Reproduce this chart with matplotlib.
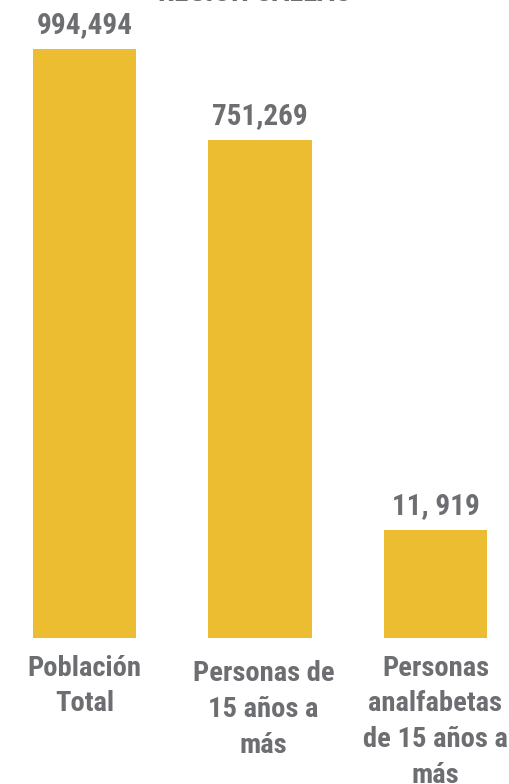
import matplotlib.pyplot as plt
from matplotlib import font_manager

categories = ["Población\nTotal", "Personas de\n15 años a\nmás", "Personas\nanalfabetas\nde 15 años a\nmás"]
value_labels = ["994,494", "751,269", "11, 919"]
# bar heights as drawn in the source graphic (not proportional to the labels)
bar_heights = [994494, 841000, 182000]
title = "REGIÓN CALLAO"

names = {f.name for f in font_manager.fontManager.ttflist}
condensed = [f.name for f in font_manager.fontManager.ttflist
             if f.stretch in ("condensed", "semi-condensed", "extra-condensed", 300)
             or "Narrow" in f.name or "Condensed" in f.name]
family = [n for n in ("Roboto Condensed", "Liberation Sans Narrow", "DejaVu Sans Condensed") if n in names]
family = (family or sorted(set(condensed))[:1]) + ["DejaVu Sans"]
plt.rcParams["font.family"] = family
plt.rcParams["font.stretch"] = "condensed"
narrow = family[0] != "DejaVu Sans"

bar_color = "#ecbd30"
text_color = "#6d6e71"
vsize = 21 if narrow else 18
lsize = 20.5 if narrow else 16

fig = plt.figure(figsize=(5.10, 7.84), dpi=100)
ax = fig.add_axes([0, 1 - 638 / 784, 1, 638 / 784])

x = list(range(len(categories)))
ax.bar(x, bar_heights, width=0.587, color=bar_color)
ax.set_xlim(-84.5 / 175.5, (510 - 84.5) / 175.5)
ax.set_ylim(0, bar_heights[0] * 638 / 589)

for xi, h, lab in zip(x, bar_heights, value_labels):
    ax.annotate(lab, (xi, h), xytext=(0, 7), textcoords="offset points",
                ha="center", va="bottom", fontsize=vsize, fontweight="bold", color=text_color)

label_offsets = [12, 16, 12]
label_x = [0, 0.02, 0]
for xi, dx, cat, off in zip(x, label_x, categories, label_offsets):
    ax.annotate(cat, (xi + dx, 0), xytext=(0, -off), textcoords="offset points",
                ha="center", va="top", fontsize=lsize, fontweight="bold", color=text_color,
                linespacing=1.42)

fig.text(0.5, 1 - 1 / 784, title, ha="center", va="baseline", fontsize=vsize,
         fontweight="bold", color=text_color)

ax.axis("off")
fig.savefig("out.png", dpi=100)
